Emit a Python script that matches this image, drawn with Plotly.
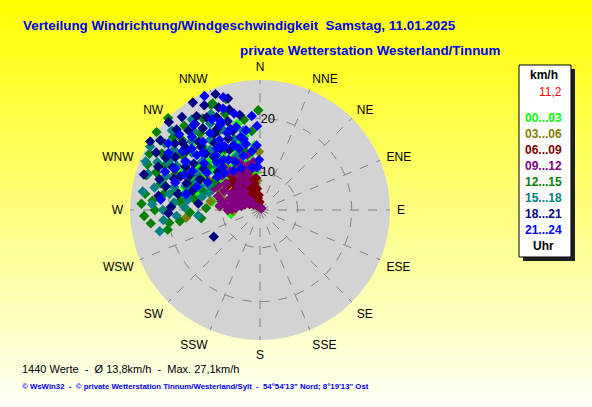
import plotly.graph_objects as go

W, H = 592, 407

# Zeitgruppen (Uhr) und Farben
gruppen = ['00...03', '03...06', '06...09', '09...12', '12...15', '15...18', '18...21', '21...24']
farben = ['#00FF00', '#808000', '#800000', '#800080', '#008000', '#008080', '#000080', '#0000FF']

# Windrichtung (Grad) und Geschwindigkeit (km/h) je Zeitgruppe
dir_00 = [340, 345, 350, 335, 330, 325, 320, 315, 310, 305, 300, 295, 342, 355, 348, 338, 328, 318, 333, 322,
          312, 302, 290, 280, 262, 287, 297, 345, 352, 327, 337, 332, 323, 313, 343, 308, 299, 317, 285, 346]
spd_00 = [10, 12, 13.5, 14, 12.5, 15, 13.5, 16, 14.5, 17, 15, 16.5, 16.3, 15, 17, 18.5, 17.5, 18.5, 9.5, 10.5,
          11, 12, 13, 12, 8.4, 17.5, 19, 19.5, 10, 20, 15.5, 11, 12, 13, 14, 12.5, 13.8, 20.5, 15, 9]
dir_03 = [340, 330, 320, 350, 310, 300, 290, 325, 335, 345, 315, 305, 355, 359, 333, 322, 312, 295, 285, 264,
          300, 342, 275, 268, 280, 352, 277]
spd_03 = [5.5, 6, 6.8, 7.2, 7, 8, 8.5, 8.2, 9, 9.5, 9.8, 10.5, 8.5, 13.8, 12, 13, 12.5, 11, 10, 16.8,
          14, 11.5, 10.5, 8, 12.3, 11, 17]
dir_06 = [330, 340, 320, 350, 335, 325, 345, 315, 305, 355, 338, 328, 318, 348, 310, 300, 295, 332, 322, 342,
          312, 352, 336, 326, 316, 306, 345, 330, 320, 340, 325, 310, 300, 290, 298, 288, 357, 347, 334, 318,
          308, 343, 327, 313, 353]
spd_06 = [4.5, 5, 5.5, 5.2, 6, 6.5, 6.8, 6.2, 6, 5.8, 7.5, 7.8, 7.2, 8, 7.5, 7, 6.8, 8.5, 9, 9.2,
          8.8, 7, 10, 10.2, 9.8, 9, 10.5, 11, 11.5, 3.8, 4, 5, 5.2, 6, 8.2, 7.8, 4.5, 3.6, 9.5, 10.5,
          10.5, 6, 7, 6.8, 9]
dir_09 = [300, 295, 285, 280, 278, 288, 293, 300, 305, 310, 290, 283, 275, 270, 298, 303, 308, 312, 315, 318,
          322, 327, 332, 337, 342, 347, 352, 355, 340, 330, 320, 313, 287, 293, 296, 282, 276, 272, 40, 325,
          335, 345, 300, 306, 310]
spd_09 = [5.5, 6.5, 7, 8, 9.5, 11.2, 12.6, 9, 7.5, 8, 9, 10.3, 7.5, 9, 10.5, 8.5, 11, 6.5, 5.5, 9,
          12, 11, 13.5, 12.5, 10.5, 13.5, 12, 11, 9.8, 10, 7.5, 12.5, 8, 6, 7.5, 6.5, 10.5, 8.2, 3.4, 9.5,
          8.5, 11.5, 12, 13, 4.5]
dir_12 = [315, 307, 305, 300, 295, 290, 285, 280, 275, 270, 263, 258, 262, 268, 276, 283, 293, 298, 305, 312,
          318, 322, 328, 335, 340, 359, 354, 336, 288, 300, 310, 320, 330, 345, 290, 272, 280, 262, 271, 262,
          303, 297, 292, 287, 283, 278, 273, 310, 325, 332, 343, 350, 267, 298]
spd_12 = [27.1, 27, 25.6, 24, 22.5, 23.5, 22, 21, 23, 22.5, 23.4, 20.5, 18, 16, 18, 19, 20, 18, 20.5, 22.5,
          24, 21, 23, 24.5, 22, 21.5, 17.7, 24.6, 14, 13, 15.5, 16.5, 16, 14.5, 16.8, 13, 15.5, 20, 19.7, 14,
          21.5, 26, 25.5, 25, 17, 24.5, 25, 24, 18.5, 19.5, 24.5, 20, 24.5, 15.5]
dir_15 = [300, 295, 290, 285, 280, 275, 270, 266, 278, 288, 298, 305, 310, 315, 320, 325, 330, 335, 340, 345,
          320, 310, 300, 292, 283, 272, 264, 305, 312, 293, 288, 300, 328, 338, 348, 315, 258, 265, 282, 296,
          303, 297, 291, 286, 281, 277, 273, 308, 318, 323, 333, 289, 294, 284, 279]
spd_15 = [22, 24, 21.5, 19.5, 20, 19, 21, 18.5, 16.5, 17.5, 20.5, 22.5, 19.5, 21, 22, 19, 21.5, 19.5, 17, 15.5,
          17.5, 17, 16.5, 15, 14, 17, 21, 24.5, 25, 26, 24.8, 26.5, 16.5, 14, 18, 14.5, 22, 14.5, 23, 13.5,
          19, 22, 19.5, 22, 17.5, 21.5, 23, 21, 19, 24, 23, 13, 16, 16.5, 25]
dir_18 = [344, 338, 332, 326, 320, 314, 308, 302, 296, 290, 284, 278, 272, 268, 300, 310, 318, 325, 332, 340,
          348, 336, 326, 316, 306, 296, 286, 276, 343, 330, 318, 305, 312, 322, 333, 293, 287, 299, 328, 339, 240,
          335, 329, 323, 317, 311, 305, 299, 293, 287, 281, 341, 319, 309, 297, 327, 314, 302, 290]
spd_18 = [24.5, 23.5, 25, 24, 25.5, 24.5, 23, 21.5, 21, 20, 21, 22, 19.5, 20, 19, 21, 20, 21.5, 20, 20.5,
          21, 17.5, 18, 17.5, 16, 17.5, 16, 14.5, 22.5, 22.8, 22.8, 18, 13.5, 14.5, 15.5, 23.5, 25.5, 25, 26.5, 26, 12.9,
          22, 19.5, 23, 19, 22, 25.5, 23, 19, 22.5, 18.5, 18.5, 16, 20.5, 15.5, 16.5, 26.5, 27, 17.5]
dir_21 = [358, 359, 357, 355, 350, 345, 340, 335, 330, 325, 320, 315, 310, 305, 300, 295, 290, 338, 333, 328,
          318, 308, 345, 340, 332, 322, 312, 302, 292, 282, 276, 352, 348, 343, 336, 326, 316, 350, 357, 342,
          334, 288, 298, 347, 341, 337, 331, 327, 321, 317, 311, 307, 303, 324, 329, 336, 344, 313, 319, 306, 296]
spd_21 = [18.6, 12.3, 15, 20.5, 18, 17, 19, 20.5, 18, 17, 19.5, 18, 16.5, 15, 17.5, 18.5, 15.5, 16, 13, 14,
          15, 13, 21.5, 23, 22, 23, 20, 23, 22, 17, 21.5, 14, 15.5, 13.5, 11.5, 11.8, 12.5, 11, 11, 25,
          26.5, 19.5, 14, 16.5, 15, 18.5, 16.5, 20, 16, 21.5, 18.5, 21, 19.5, 14.5, 17, 21, 19, 23.5, 13.5, 24, 20.5]

richtungen = [dir_00, dir_03, dir_06, dir_09, dir_12, dir_15, dir_18, dir_21]
geschw = [spd_00, spd_03, spd_06, spd_09, spd_12, spd_15, spd_18, spd_21]

kompass = ['N', 'NNE', 'NE', 'ENE', 'E', 'ESE', 'SE', 'SSE', 'S', 'SSW', 'SW', 'WSW', 'W', 'WNW', 'NW', 'NNW']
kompass_grad = [i * 22.5 for i in range(16)]
ring_werte = [10, 20]
r_min, r_max = 3, 27.1


def px(x):
    return x / W


def py(y):
    return 1 - y / H


fig = go.Figure()
for g, f, d, s in zip(gruppen, farben, richtungen, geschw):
    fig.add_trace(go.Scatterpolar(
        r=s, theta=d, mode='markers', name=g,
        marker=dict(symbol='diamond', size=8, color=f, line=dict(width=0)),
        showlegend=False,
    ))

# Hintergrund: Verlauf gelb -> hellgelb
shapes = []
n = 80
for i in range(n):
    b = int(round(245 * i / (n - 1)))
    shapes.append(dict(type='rect', xref='paper', yref='paper', x0=0, x1=1,
                       y0=1 - (i + 1) / n, y1=1 - i / n + 0.002,
                       fillcolor='rgb(255,255,%d)' % b, line=dict(width=0), layer='below'))

# Legendenkasten mit Schatten
shapes.append(dict(type='rect', xref='paper', yref='paper', x0=px(523), x1=px(575), y0=py(261), y1=py(69),
                   fillcolor='#202020', line=dict(width=0), layer='above'))
shapes.append(dict(type='rect', xref='paper', yref='paper', x0=px(519), x1=px(571), y0=py(257), y1=py(65),
                   fillcolor='white', line=dict(color='black', width=1), layer='above'))

ann = []
titel = 'Liberation Sans, Arial'
ann.append(dict(text='<b>Verteilung Windrichtung/Windgeschwindigkeit  Samstag, 11.01.2025</b>',
                x=px(21), y=py(25), font=dict(family=titel, size=13.4, color='#0000F0')))
ann.append(dict(text='<b>private Wetterstation Westerland/Tinnum</b>',
                x=px(238), y=py(50), font=dict(family=titel, size=13.4, color='#0000F0')))
ann.append(dict(text='1440 Werte  -  Ø 13,8km/h  -  Max. 27,1km/h',
                x=px(20), y=py(369),
                font=dict(family='Liberation Sans, Arial', size=11, color='black')))
ann.append(dict(text="<b>© WsWin32  -  © private Wetterstation Tinnum/Westerland/Sylt  -  54°54'13\" Nord; 8°19'13\" Ost</b>",
                x=px(20), y=py(386),
                font=dict(family=titel, size=7.8, color='#0000F0')))
for a in ann:
    a.update(xanchor='left', yanchor='middle', showarrow=False)

leg_font = 'Liberation Sans, Arial'
ann.append(dict(text='<b>km/h</b>', x=px(544), y=py(75),
                font=dict(family=leg_font, size=12, color='black')))
ann.append(dict(text='11,2', x=px(550), y=py(92),
                font=dict(family=leg_font, size=12, color='#FF0000')))
for i, (g, f) in enumerate(zip(gruppen, farben)):
    ann.append(dict(text='<b>%s</b>' % g, x=px(543), y=py(118 + i * 16),
                    font=dict(family=leg_font, size=12, color=f)))
ann.append(dict(text='<b>Uhr</b>', x=px(543), y=py(246),
                font=dict(family=leg_font, size=12, color='black')))
for a in ann[4:]:
    a.update(xanchor='center', yanchor='middle', showarrow=False)

fig.update_layout(
    width=W, height=H,
    margin=dict(l=0, r=0, t=0, b=0),
    paper_bgcolor='#FFFF80',
    shapes=shapes,
    annotations=ann,
    polar=dict(
        domain=dict(x=[px(130), px(390)], y=[py(340), py(80)]),
        bgcolor='#D3D3D3',
        angularaxis=dict(
            rotation=90, direction='clockwise',
            tickmode='array', tickvals=kompass_grad, ticktext=kompass,
            showline=False, ticks='outside', ticklen=4, tickcolor='rgba(0,0,0,0)',
            gridcolor='#808080', griddash='dash', gridwidth=1,
            tickfont=dict(family='Liberation Sans, Arial', size=12, color='black'),
        ),
        radialaxis=dict(
            range=[r_min, r_max], tickmode='array', tickvals=ring_werte,
            showline=False, ticks='', angle=90, tickangle=90,
            gridcolor='#808080', griddash='dash', gridwidth=1,
            tickfont=dict(family='Liberation Sans, Arial', size=13, color='black'),
        ),
    ),
)

fig.write_html('out.html', config={'displayModeBar': False},
               post_script="document.body.style.margin='0';")
